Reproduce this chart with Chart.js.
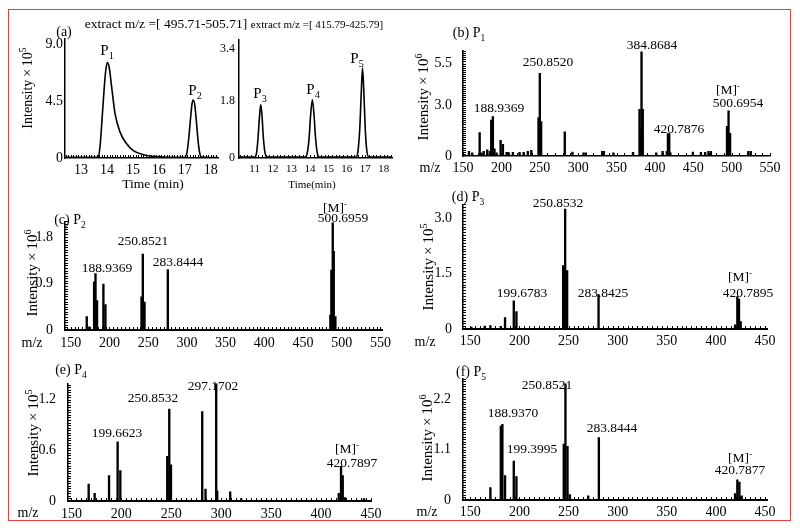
<!DOCTYPE html>
<html>
<head>
<meta charset="utf-8">
<script src="https://cdn.jsdelivr.net/npm/chart.js@4.4.1/dist/chart.umd.min.js"></script>
<style>
  body { margin: 0; background: #fff; }
  #fig { position: relative; width: 800px; height: 530px; font-family: "Liberation Serif", "Times New Roman", serif; color: #000; }
  #frame { position: absolute; left: 8px; top: 9px; width: 781px; height: 510px; border: 1px solid #e8413c; }
  canvas { position: absolute; }
  .t { position: absolute; white-space: nowrap; transform: translate(-50%, -50%); line-height: 1; }
  .yt { position: absolute; white-space: nowrap; transform: translate(-50%, -50%) rotate(-90deg); line-height: 1; }
  sub, sup { font-size: 68%; line-height: 0; }
</style>
</head>
<body>
<div id="fig"><div id="frame"></div></div>
<script>
// (a) extracted ion chromatograms, time in min, intensity x10^5
const timeA1 = [12.38, 13.0, 13.5, 13.66, 13.73, 13.79, 13.86, 13.94, 14.01, 14.08, 14.18, 14.31, 14.5, 14.75, 15.0, 15.4, 15.78, 16.3, 16.8, 17.0, 17.08, 17.15, 17.22, 17.28, 17.33, 17.39, 17.45, 17.52, 17.58, 17.65, 18.0, 18.28];
const intA1  = [0.05, 0.05, 0.05, 0.1, 0.87, 2.5, 4.6, 6.7, 7.54, 7.2, 5.6, 3.5, 2.06, 1.14, 0.6, 0.26, 0.13, 0.06, 0.05, 0.05, 0.4, 1.5, 3.1, 4.3, 4.58, 4.1, 2.8, 1.2, 0.35, 0.08, 0.04, 0.04];
const timeA2 = [10.15, 11.0, 11.1, 11.18, 11.25, 11.33, 11.4, 11.47, 11.55, 11.65, 12.5, 13.75, 13.85, 13.95, 14.03, 14.13, 14.22, 14.3, 14.4, 14.5, 16.5, 16.6, 16.7, 16.78, 16.85, 16.92, 17.0, 17.08, 17.18, 18.45];
const intA2  = [0.03, 0.03, 0.15, 0.6, 1.2, 1.67, 1.3, 0.65, 0.2, 0.04, 0.03, 0.03, 0.15, 0.6, 1.3, 1.82, 1.35, 0.65, 0.15, 0.03, 0.03, 0.2, 0.9, 2.0, 2.81, 2.1, 0.9, 0.25, 0.04, 0.03];

// (b)-(f) mass spectra: m/z and intensity
const mzB  = [157.8, 162, 171.7, 174, 177, 181.6, 185, 186.8, 188.9, 191, 193.8, 199, 202, 206.8, 209, 215, 223.7, 229, 234.5, 239, 248.4, 250.1, 251.8, 282.6, 292.6, 307, 310, 331.5, 333.5, 346, 371.5, 380, 381.2, 382.6, 383.4, 384.2, 401.8, 410, 415.6, 417, 418.7, 420.2, 449.5, 460, 465.5, 469.8, 473, 494, 496, 498, 521.8, 524.9];
const intB = [0.28, 0.19, 1.39, 0.19, 0.28, 0.37, 0.28, 2.13, 2.35, 0.43, 0.19, 0.93, 0.70, 0.22, 0.22, 0.22, 0.22, 0.22, 0.28, 0.33, 2.28, 4.91, 2.04, 1.43, 0.24, 0.19, 0.19, 0.28, 0.28, 0.19, 0.22, 2.78, 1.57, 6.2, 2.78, 2.78, 0.19, 0.28, 0.28, 1.33, 1.33, 0.19, 0.24, 0.22, 0.22, 0.28, 0.28, 1.76, 2.69, 1.35, 0.28, 0.28];
const mzC  = [170.7, 174, 180.2, 182, 184, 192.2, 194.8, 241.4, 243.1, 245.3, 275.4, 485.3, 486.6, 488.4, 489.7, 491.8];
const intC = [0.26, 0.06, 0.93, 1.09, 0.57, 0.89, 0.49, 0.64, 1.47, 0.54, 1.17, 0.29, 1.16, 2.07, 1.52, 0.26];
const mzD  = [151, 164.6, 170.4, 181, 185.3, 194.2, 196.9, 244.5, 246.5, 248.5, 280.5, 419.5, 421.8, 423.5, 425.2];
const intD = [0.05, 0.08, 0.09, 0.07, 0.31, 0.76, 0.47, 1.72, 3.25, 1.58, 0.93, 0.11, 0.88, 0.81, 0.2];
const mzE  = [167.3, 173.3, 187.7, 196.3, 199, 246, 248, 249.7, 281, 284.3, 295, 296, 309, 320, 417.7, 420, 421.7, 424, 443];
const intE = [0.20, 0.09, 0.30, 0.70, 0.36, 0.53, 1.09, 0.43, 1.06, 0.14, 1.40, 0.12, 0.11, 0.03, 0.09, 0.41, 0.30, 0.04, 0.03];
const mzF  = [170.4, 181, 182.6, 185.3, 194.2, 196.9, 245.1, 246.8, 248.9, 251.3, 270, 280.8, 419.5, 421.8, 423.9, 426.2];
const intF = [0.27, 1.61, 1.65, 0.53, 0.85, 0.51, 1.22, 2.53, 1.17, 0.12, 0.09, 1.36, 0.14, 0.44, 0.39, 0.09];

// tick values and labels
const xTimeA1 = [13, 14, 15, 16, 17, 18];
const xTimeA2 = [11, 12, 13, 14, 15, 16, 17, 18];
const xMz550 = [150, 200, 250, 300, 350, 400, 450, 500, 550];
const xMz450 = [150, 200, 250, 300, 350, 400, 450];
const yValA1 = [0, 4.5, 9.0], yLabA1 = ['0', '4.5', '9.0'];
const yValA2 = [0, 1.8, 3.4], yLabA2 = ['0', '1.8', '3.4'];
const yValB = [0, 3.0, 5.5], yLabB = ['0', '3.0', '5.5'];
const yValC = [0, 0.9, 1.8], yLabC = ['0', '0.9', '1.8'];
const yValD = [0, 1.5, 3.0], yLabD = ['0', '1.5', '3.0'];
const yValE = [0, 0.6, 1.2], yLabE = ['0', '0.6', '1.2'];
const yValF = [0, 1.1, 2.2], yLabF = ['0', '1.1', '2.2'];

const SERIF = '"Liberation Serif", "Times New Roman", serif';
const fig = document.getElementById('fig');
const Wy = 44, PT = 12, PR = 18, Hx = 26;

// small inward tick marks along both axes (ruler look of the original)
const rulerPlugin = {
  id: 'ruler',
  afterDraw(chart, args, opts) {
    const ctx = chart.ctx, area = chart.chartArea;
    ctx.save();
    ctx.strokeStyle = '#000';
    ctx.lineWidth = 1;
    ctx.beginPath();
    if (opts.yStep) {
      const sc = chart.scales.y;
      for (let k = 1; k * opts.yStep <= sc.max; k++) {
        const p = Math.round(sc.getPixelForValue(k * opts.yStep)) + 0.5;
        ctx.moveTo(area.left, p); ctx.lineTo(area.left + 3, p);
      }
    }
    if (opts.xStep) {
      const sc = chart.scales.x;
      for (let k = Math.ceil(sc.min / opts.xStep); k * opts.xStep <= sc.max; k++) {
        const p = Math.round(sc.getPixelForValue(k * opts.xStep)) + 0.5;
        ctx.moveTo(p, area.bottom); ctx.lineTo(p, area.bottom - 3);
      }
    }
    ctx.stroke();
    ctx.restore();
  }
};

function labelFor(v, vals, labs) {
  const i = vals.findIndex(m => Math.abs(m - v) < 1e-6);
  return i < 0 ? '' : labs[i];
}

function axis(pos, min, max, vals, labs, size, pad, bw) {
  return {
    type: 'linear', position: pos, min: min, max: max, offset: false,
    afterBuildTicks: ax => { ax.ticks = vals.map(v => ({ value: v })); },
    afterFit: ax => { if (pos === 'left') ax.width = Wy; else ax.height = Hx; },
    grid: { display: false, drawTicks: false },
    border: { display: true, color: '#000', width: bw },
    ticks: {
      autoSkip: false, maxRotation: 0, minRotation: 0, padding: pad, color: '#000',
      font: { family: SERIF, size: size },
      callback: v => labelFor(v, vals, labs)
    }
  };
}

function addChart(g, type, dataset, xs, ys, ruler) {
  const c = document.createElement('canvas');
  const w = Math.round(g.r - g.l) + Wy + PR;
  const h = Math.round(g.b - g.t) + PT + Hx;
  c.width = w; c.height = h;
  c.style.width = w + 'px'; c.style.height = h + 'px';
  c.style.left = (Math.round(g.l) - Wy) + 'px';
  c.style.top = (Math.round(g.t) - PT) + 'px';
  fig.appendChild(c);
  new Chart(c.getContext('2d'), {
    type: type,
    data: { datasets: [dataset] },
    plugins: [rulerPlugin],
    options: {
      responsive: false, animation: false, events: [],
      layout: { padding: { top: PT, right: PR, left: 0, bottom: 0 } },
      plugins: { legend: { display: false }, tooltip: { enabled: false }, ruler: ruler },
      scales: { x: xs, y: ys }
    }
  });
}

function trace(xv, yv) {
  return {
    data: xv.map((x, i) => ({ x: x, y: yv[i] })),
    borderColor: '#000', borderWidth: 1.6, pointRadius: 0, fill: false,
    cubicInterpolationMode: 'monotone'
  };
}

function sticks(xv, yv) {
  return {
    data: xv.map((x, i) => ({ x: x, y: yv[i] })),
    backgroundColor: '#000', borderWidth: 0, barThickness: 1.7
  };
}

// (a) chromatograms
addChart({ l: 65, r: 218, t: 39, b: 158 }, 'line', trace(timeA1, intA1),
  axis('bottom', 12.38, 18.28, xTimeA1, xTimeA1.map(String), 14, 4, 1.5),
  axis('left', 0, 9.39, yValA1, yLabA1, 14, 2, 1.5), { xStep: 0.1 });
addChart({ l: 239, r: 392, t: 40, b: 158 }, 'line', trace(timeA2, intA2),
  axis('bottom', 10.15, 18.45, xTimeA2, xTimeA2.map(String), 11, 5, 1.5),
  axis('left', 0, 3.69, yValA2, yLabA2, 12, 4, 1.5), { xStep: 0.2 });

// (b)-(f) spectra
addChart({ l: 463, r: 770, t: 43, b: 156 }, 'bar', sticks(mzB, intB),
  axis('bottom', 150, 550, xMz550, xMz550.map(String), 14, 4, 1.5),
  axis('left', 0, 6.28, yValB, yLabB, 14, 11, 1.5), { xStep: 10, yStep: 0.125 });
addChart({ l: 65, r: 381.6, t: 213, b: 330 }, 'bar', sticks(mzC, intC),
  axis('bottom', 142.6, 552, xMz550, xMz550.map(String), 14, 5, 2),
  axis('left', 0, 2.1, yValC, yLabC, 14, 12, 1.5), { xStep: 5, yStep: 0.05 });
addChart({ l: 463.3, r: 767, t: 197, b: 329.3 }, 'bar', sticks(mzD, intD),
  axis('bottom', 142.5, 452, xMz450, xMz450.map(String), 14, 4, 2),
  axis('left', 0, 3.375, yValD, yLabD, 14, 11, 1.5), { xStep: 5, yStep: 0.075 });
addChart({ l: 68.3, r: 371.7, t: 375, b: 500.5 }, 'bar', sticks(mzE, intE),
  axis('bottom', 146.6, 450, xMz450, xMz450.map(String), 14, 4.5, 2),
  axis('left', 0, 1.394, yValE, yLabE, 14, 12, 1.5), { xStep: 5, yStep: 0.03 });
addChart({ l: 463.3, r: 767, t: 370, b: 500 }, 'bar', sticks(mzF, intF),
  axis('bottom', 142.5, 452, xMz450, xMz450.map(String), 14, 3.5, 2),
  axis('left', 0, 2.65, yValF, yLabF, 14, 12, 1.5), { xStep: 5, yStep: 0.055 });

// text
function addText(x, y, html, size, cls) {
  const d = document.createElement('div');
  d.className = cls || 't';
  d.style.left = x + 'px'; d.style.top = y + 'px';
  d.style.fontSize = size + 'px';
  d.innerHTML = html;
  fig.appendChild(d);
}
const yTitle5 = 'Intensity&thinsp;×&thinsp;10<sup>5</sup>';
const yTitle6 = 'Intensity&thinsp;×&thinsp;10<sup>6</sup>';

addText(64, 32, '(a)', 14);
addText(166, 24, 'extract m/z =[ 495.71-505.71]', 13.5);
addText(317, 24, 'extract m/z =[ 415.79-425.79]', 11);
addText(28, 88, yTitle5, 14, 'yt');
addText(153, 184, 'Time (min)', 13.5);
addText(312, 184, 'Time(min)', 11);
addText(107, 50, 'P<sub>1</sub>', 15);
addText(195, 90, 'P<sub>2</sub>', 15);
addText(260, 93, 'P<sub>3</sub>', 15);
addText(313, 89, 'P<sub>4</sub>', 15);
addText(357, 58, 'P<sub>5</sub>', 15);

addText(469, 33, '(b) P<sub>1</sub>', 14);
addText(423, 97, yTitle6, 15, 'yt');
addText(430, 168, 'm/z', 14);
addText(548, 62, '250.8520', 13.5);
addText(652, 45, '384.8684', 13.5);
addText(499, 108, '188.9369', 13.5);
addText(679, 129, '420.7876', 13.5);
addText(728, 90, '[M]<sup>-</sup>', 13.5);
addText(738, 103, '500.6954', 13.5);

addText(70, 220, '(c) P<sub>2</sub>', 14);
addText(32, 273, yTitle6, 15, 'yt');
addText(32, 343, 'm/z', 14);
addText(107, 268, '188.9369', 13.5);
addText(143, 241, '250.8521', 13.5);
addText(178, 262, '283.8444', 13.5);
addText(335, 208, '[M]<sup>-</sup>', 13.5);
addText(343, 218, '500.6959', 13.5);

addText(468, 197, '(d) P<sub>3</sub>', 14);
addText(428, 267, yTitle5, 15, 'yt');
addText(425, 342, 'm/z', 14);
addText(558, 203, '250.8532', 13.5);
addText(522, 293, '199.6783', 13.5);
addText(603, 293, '283.8425', 13.5);
addText(740, 277, '[M]<sup>-</sup>', 13.5);
addText(748, 293, '420.7895', 13.5);

addText(71, 370, '(e) P<sub>4</sub>', 14);
addText(33, 433, yTitle5, 15, 'yt');
addText(28, 513, 'm/z', 14);
addText(153, 398, '250.8532', 13.5);
addText(213, 386, '297.1702', 13.5);
addText(117, 433, '199.6623', 13.5);
addText(347, 449, '[M]<sup>-</sup>', 13.5);
addText(352, 463, '420.7897', 13.5);

addText(471, 372, '(f) P<sub>5</sub>', 14);
addText(427, 438, yTitle6, 15, 'yt');
addText(427, 512, 'm/z', 14);
addText(547, 385, '250.8521', 13.5);
addText(513, 413, '188.9370', 13.5);
addText(532, 449, '199.3995', 13.5);
addText(612, 428, '283.8444', 13.5);
addText(740, 458, '[M]<sup>-</sup>', 13.5);
addText(740, 470, '420.7877', 13.5);
</script>
</body>
</html>
